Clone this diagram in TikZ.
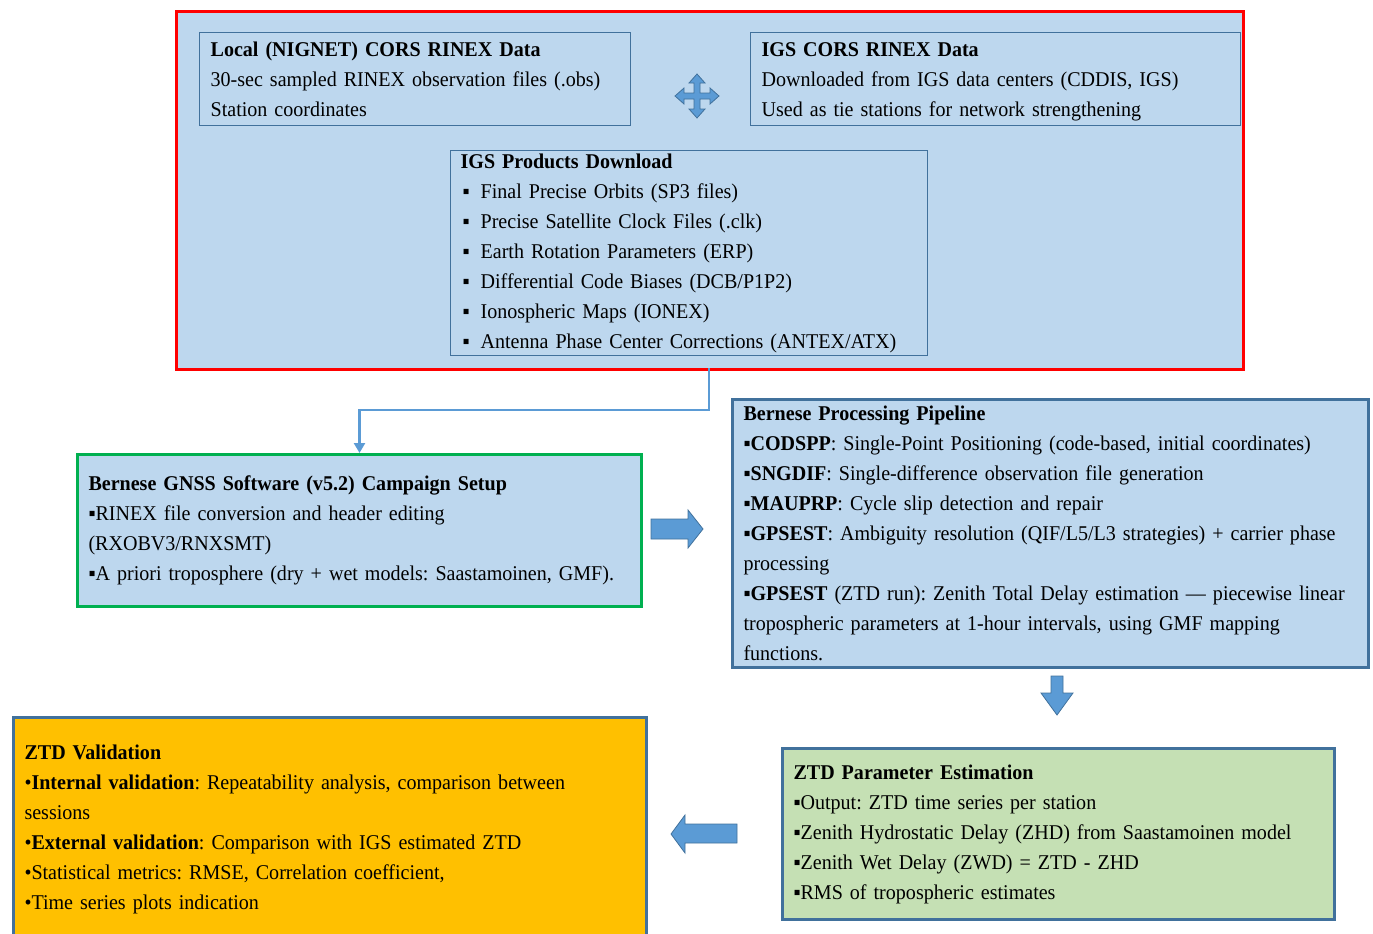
\documentclass[tikz,border=0pt]{standalone}
\usepackage{fontspec}
\setmainfont{Liberation Serif}[FakeStretch=0.955]
\usetikzlibrary{arrows.meta}
\usetikzlibrary{positioning}
\frenchspacing
\definecolor{hellblau}{HTML}{BDD7EE}
\definecolor{randblau}{HTML}{41719C}
\definecolor{pfeilblau}{HTML}{5B9BD5}
\definecolor{hellgruen}{HTML}{C5E0B4}
\definecolor{orange}{HTML}{FFC000}
\definecolor{rot}{HTML}{FF0000}
\definecolor{gruen}{HTML}{00B050}
\tikzset{kasten/.style = {
draw=randblau, fill=hellblau, line width=1.3pt, anchor=north west, align=left,
inner xsep=11pt, inner ysep=0pt, font=\fontsize{21}{30}\selectfont
}}
\tikzset{dkasten/.style = {kasten, line width=3pt}}
\tikzset{blockpfeil/.style = {fill=pfeilblau, draw=randblau, line width=0.8pt, line join=miter}}
\tikzset{verbindung/.style = {draw=pfeilblau, line width=2.6pt, -{Triangle[length=10pt,width=11pt]}}}
\newcommand{\pkt}{\makebox[20pt][l]{\hspace{2pt}▪}}

\begin{document}
\begin{tikzpicture}[x=1pt,y=-1pt]
\useasboundingbox (0,0) rectangle (1373,934);

\node[draw=rot, fill=hellblau, line width=3pt, anchor=north west, minimum width=1067pt, minimum height=358pt, inner sep=0pt] (eingang) at (175,10) {};

\node[kasten, text width=409pt, minimum height=93pt] (lokal) at (199,32)
{\textbf{Local (NIGNET) CORS RINEX Data}\\
30-sec sampled RINEX observation files (.obs)\\
Station coordinates};

\node[kasten, text width=468pt, minimum height=93pt] (igs) at (750,32)
{\textbf{IGS CORS RINEX Data}\\
Downloaded from IGS data centers (CDDIS, IGS)\\
Used as tie stations for network strengthening\vspace{-5pt}};

\draw[blockpfeil, shift={(697,96)}] (0,-22) -- (8,-13) -- (3,-13) -- (3,-3) -- (13,-3) -- (13,-8) -- (22,0) -- (13,8) -- (13,3) -- (3,3) -- (3,13) -- (8,13) -- (0,22) -- (-8,13) -- (-3,13) -- (-3,3) -- (-13,3) -- (-13,8) -- (-22,0) -- (-13,-8) -- (-13,-3) -- (-3,-3) -- (-3,-13) -- (-8,-13) -- cycle;

\node[kasten, inner xsep=10pt, text width=457pt, minimum height=205pt] (produkte) at (450,150)
{\textbf{IGS Products Download}\\
\pkt Final Precise Orbits (SP3 files)\\
\pkt Precise Satellite Clock Files (.clk)\\
\pkt Earth Rotation Parameters (ERP)\\
\pkt Differential Code Biases (DCB/P1P2)\\
\pkt Ionospheric Maps (IONEX)\\
\pkt Antenna Phase Center Corrections (ANTEX/ATX)};

\node[dkasten, draw=gruen, text width=542pt, minimum height=152pt] (setup) at (76,453)
{\textbf{Bernese GNSS Software (v5.2) Campaign Setup}\\
▪RINEX file conversion and header editing\\
(RXOBV3/RNXSMT)\\
▪A priori troposphere (dry + wet models: Saastamoinen, GMF).};

\node[dkasten, text width=614pt, minimum height=268pt] (pipeline) at (731,398)
{\textbf{Bernese Processing Pipeline}\\
▪\textbf{CODSPP}: Single-Point Positioning (code-based, initial coordinates)\\
▪\textbf{SNGDIF}: Single-difference observation file generation\\
▪\textbf{MAUPRP}: Cycle slip detection and repair\\
▪\textbf{GPSEST}: Ambiguity resolution (QIF/L5/L3 strategies) + carrier phase\\
processing\\
▪\textbf{GPSEST} (ZTD run): Zenith Total Delay estimation — piecewise linear\\
tropospheric parameters at 1-hour intervals, using GMF mapping\\
functions.};

\node[dkasten, fill=hellgruen, text width=530pt, minimum height=171pt] (schaetzung) at (781,747)
{\textbf{ZTD Parameter Estimation}\\
▪Output: ZTD time series per station\\
▪Zenith Hydrostatic Delay (ZHD) from Saastamoinen model\\
▪Zenith Wet Delay (ZWD) = ZTD - ZHD\\
▪RMS of tropospheric estimates};

\node[dkasten, fill=orange, text width=611pt, minimum height=224pt] (validierung) at (12,716)
{\textbf{ZTD Validation}\\
•\textbf{Internal validation}: Repeatability analysis, comparison between\\
sessions\\
•\textbf{External validation}: Comparison with IGS estimated ZTD\\
•Statistical metrics: RMSE, Correlation coefficient,\\
•Time series plots indication};

\coordinate (abzweig) at (709,368);
\draw[verbindung] (abzweig) -- ++(0,42) -| (setup.north);

\draw[blockpfeil] (651,519) -- (688,519) -- (688,510) -- (703,529) -- (688,548) -- (688,539) -- (651,539) -- cycle;
\draw[blockpfeil] (1051,676) -- (1063,676) -- (1063,693) -- (1073,693) -- (1057,715) -- (1041,693) -- (1051,693) -- cycle;
\draw[blockpfeil] (737,824) -- (685,824) -- (685,815) -- (671,834) -- (685,853) -- (685,843) -- (737,843) -- cycle;

\end{tikzpicture}
\end{document}
